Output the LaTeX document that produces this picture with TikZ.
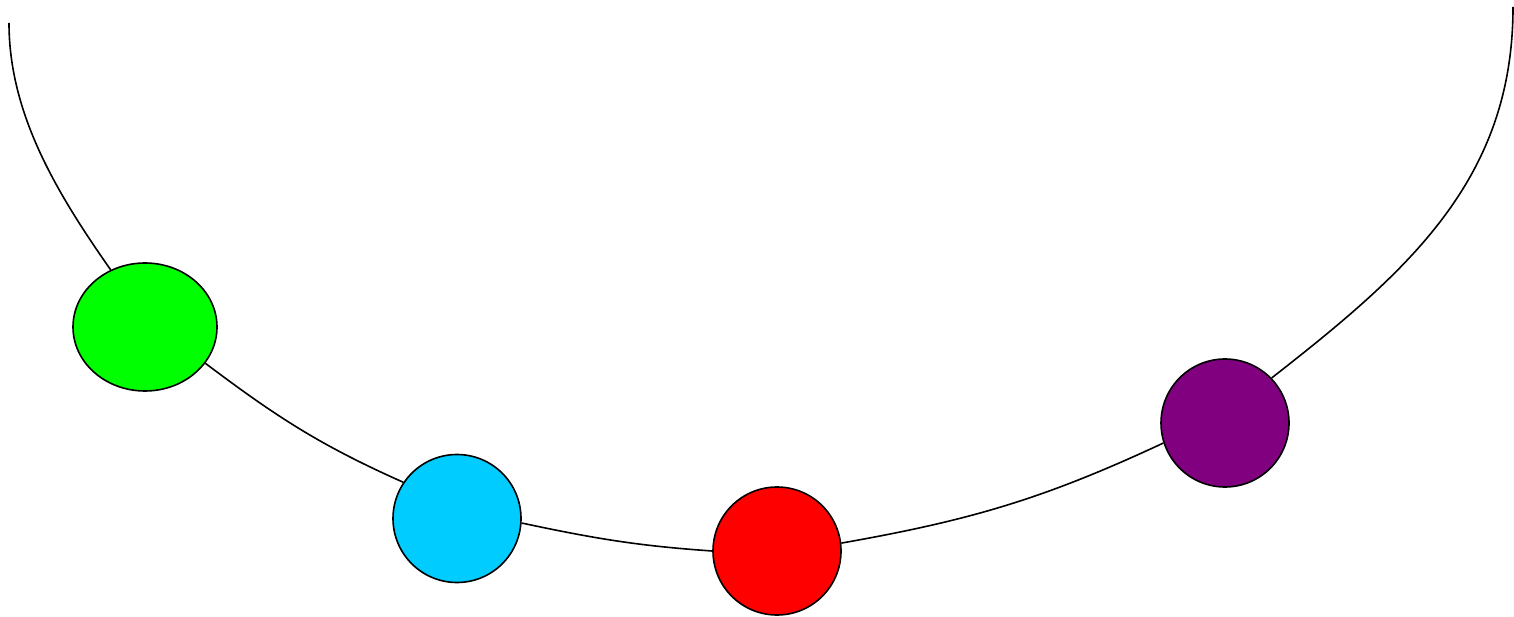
\documentclass[tikz,border=0pt]{standalone}
\usetikzlibrary{shapes.geometric}
\begin{document}
\begin{tikzpicture}[x=1pt,y=1pt,
  ball/.style={draw=black, line width=1.6pt, circle, minimum size=128pt, inner sep=0pt},
  link/.style={draw=black, line width=1.6pt}]
\useasboundingbox (0,0) rectangle (1514,616);
\definecolor{cgreen}{HTML}{00FF00}
\definecolor{ccyan}{HTML}{00CCFF}
\definecolor{cred}{HTML}{FF0000}
\definecolor{cpurple}{HTML}{800080}
\coordinate (s) at (9,593);
\coordinate (e) at (1513,609);
\node[draw=black, line width=1.6pt, ellipse, minimum width=144pt, minimum height=128pt, inner sep=0pt, fill=cgreen] (g) at (145,289) {};
\node[ball, fill=ccyan] (c) at (457,97.5) {};
\node[ball, fill=cred] (r) at (777,65) {};
\node[ball, fill=cpurple] (p) at (1225,193) {};
\draw[link] (s) to[out=-90,in=125,looseness=0.88] (g.121);
\draw[link] (g.-31) to[out=-37,in=156] (c.146);
\draw[link] (c.-4) to[out=-12,in=176] (r.180);
\draw[link] (r.7) to[out=10,in=205] (p.198);
\draw[link] (p.44) to[out=38,in=-90] (e);
\end{tikzpicture}
\end{document}
